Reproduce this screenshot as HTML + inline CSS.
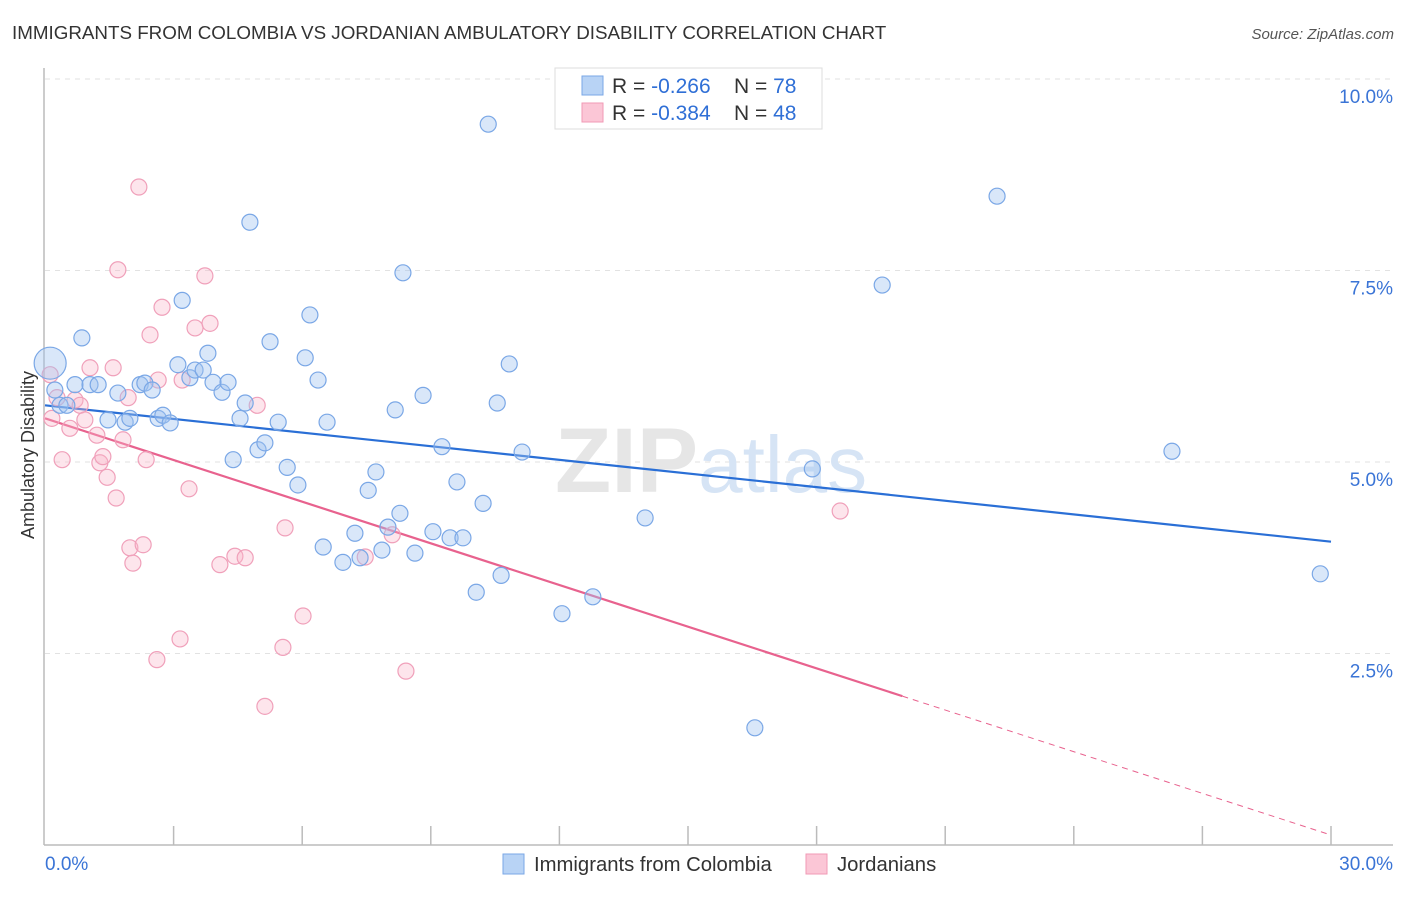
<!DOCTYPE html>
<html><head><meta charset="utf-8"><style>
body{margin:0;background:#fff;font-family:"Liberation Sans",sans-serif}
svg text{font-family:"Liberation Sans",sans-serif}
</style></head><body>
<svg id="chart" width="1406" height="892" xmlns="http://www.w3.org/2000/svg">
<text x="12" y="39" font-size="18.8" fill="#333">IMMIGRANTS FROM COLOMBIA VS JORDANIAN AMBULATORY DISABILITY CORRELATION CHART</text>
<text x="1394" y="39" font-size="15" fill="#555" text-anchor="end" font-style="italic">Source: ZipAtlas.com</text>
<g id="grid"></g>
<text x="555" y="492" font-size="92" fill="#e6e6e6" font-family="Liberation Serif" font-weight="bold">ZIP<tspan fill="#d6e4f5" font-family="Liberation Sans" font-weight="normal" font-size="80">atlas</tspan></text>
<g id="axes"></g>
<g id="lines"></g>
<g id="pts"></g>
<text transform="translate(34,455) rotate(-90)" font-size="18" fill="#333" text-anchor="middle">Ambulatory Disability</text>
<g>
<rect x="555" y="68" width="267" height="61" fill="#fff" stroke="#ddd"/>
<rect x="582" y="76" width="21" height="19" fill="#b8d3f5" stroke="#7aa7e6"/>
<rect x="582" y="103" width="21" height="19" fill="#fbc6d6" stroke="#f09ab5"/>
<text x="612" y="93" font-size="21" fill="#333">R = <tspan fill="#2f6fd6">-0.266</tspan><tspan x="734">N = </tspan><tspan fill="#2f6fd6">78</tspan></text>
<text x="612" y="120" font-size="21" fill="#333">R = <tspan fill="#2f6fd6">-0.384</tspan><tspan x="734">N = </tspan><tspan fill="#2f6fd6">48</tspan></text>
</g>
<g>
<rect x="503" y="854" width="21" height="20" fill="#b8d3f5" stroke="#7aa7e6"/>
<text x="534" y="871" font-size="20.3" fill="#333">Immigrants from Colombia</text>
<rect x="806" y="854" width="21" height="20" fill="#fbc6d6" stroke="#f09ab5"/>
<text x="837" y="871" font-size="20.3" fill="#333">Jordanians</text>
</g>
</svg>
<script>
const blueX=[0.12,0.23,0.35,0.51,0.70,0.86,1.05,1.24,1.47,1.70,1.87,1.98,2.22,2.33,2.50,2.64,2.75,2.92,3.10,3.20,3.38,3.50,3.69,3.80,3.92,4.13,4.27,4.39,4.55,4.67,4.78,4.97,5.13,5.25,5.44,5.65,5.90,6.07,6.18,6.37,6.49,6.58,6.95,7.23,7.35,7.54,7.72,7.86,8.00,8.17,8.28,8.35,8.63,8.82,9.05,9.26,9.45,9.61,9.75,10.06,10.22,10.34,10.55,10.64,10.83,11.13,12.06,12.78,14.00,16.56,17.90,19.53,22.21,26.29,29.75];
const blueY=[6.29,5.94,5.74,5.74,6.01,6.62,6.01,6.01,5.55,5.90,5.52,5.57,6.01,6.03,5.94,5.57,5.61,5.51,6.27,7.11,6.10,6.20,6.20,6.42,6.04,5.91,6.04,5.03,5.57,5.77,8.13,5.16,5.25,6.57,5.52,4.93,4.70,6.36,6.92,6.07,3.89,5.52,3.69,4.07,3.75,4.63,4.87,3.85,4.15,5.68,4.33,7.47,3.81,5.87,4.09,5.20,4.01,4.74,4.01,3.30,4.46,9.41,5.77,3.52,6.28,5.13,3.02,3.24,4.27,1.53,4.91,7.31,8.47,5.14,3.54];
const pinkX=[0.12,0.16,0.28,0.40,0.58,0.70,0.82,0.93,1.05,1.21,1.28,1.35,1.45,1.59,1.66,1.70,1.82,1.94,1.98,2.05,2.19,2.29,2.36,2.45,2.61,2.64,2.73,3.15,3.20,3.36,3.50,3.73,3.85,4.08,4.43,4.67,4.95,5.13,5.55,5.60,6.02,7.47,8.10,8.42,18.55];
const pinkY=[6.14,5.57,5.84,5.03,5.44,5.81,5.74,5.55,6.23,5.35,4.99,5.07,4.80,6.23,4.53,7.51,5.29,5.84,3.88,3.68,8.59,3.92,5.03,6.66,2.42,6.07,7.02,2.69,6.07,4.65,6.75,7.43,6.81,3.66,3.77,3.75,5.74,1.81,2.58,4.14,2.99,3.76,4.05,2.27,4.36];
const blueTrend=[5.74,3.96];
const pinkTrend=[5.57,0.13];
const pinkSolidEnd=20.0;
const yTicks=[2.5,5.0,7.5,10.0];
const NS="http://www.w3.org/2000/svg";
const X=v=>45+v/30*1286, Y=v=>845-v*76.6;
function mk(p,tag,a){const e=document.createElementNS(NS,tag);for(const k in a)e.setAttribute(k,a[k]);p.appendChild(e);return e;}
const grid=document.getElementById('grid'),axes=document.getElementById('axes'),lines=document.getElementById('lines'),pts=document.getElementById('pts');
yTicks.forEach(t=>{
 const l=mk(grid,'line',{x1:45,x2:1393,y1:Y(t),y2:Y(t),stroke:'#e2e2e2','stroke-dasharray':'5,5'});
 
 
 const tx=mk(axes,'text',{x:1393,y:Y(t)+24,'font-size':19,fill:'#3a74d6','text-anchor':'end'});
 tx.textContent=t.toFixed(1)+'%';
 
 
});
mk(axes,'line',{x1:44,x2:44,y1:68,y2:845,stroke:'#bbb','stroke-width':1.5});
mk(axes,'line',{x1:44,x2:1393,y1:845,y2:845,stroke:'#bbb','stroke-width':1.5});
for(let i=1;i<=10;i++){const t=mk(axes,'line',{x1:X(i*3),x2:X(i*3),y1:826,y2:845,stroke:'#bbb','stroke-width':1.5});
 
 }
const x0=mk(axes,'text',{x:45,y:870,'font-size':19,fill:'#3a74d6'});x0.textContent='0.0%';


const x1=mk(axes,'text',{x:1393,y:870,'font-size':19,fill:'#3a74d6','text-anchor':'end'});x1.textContent='30.0%';


function drawPts(xs,ys,fill,stroke,name){xs.forEach((x,i)=>{
 const c=mk(pts,'circle',{cx:X(x),cy:Y(ys[i]),r:(name==='colombia-point'&&i===0)?16:8,fill:fill,stroke:stroke,'stroke-width':1.2});
 
 
});}
drawPts(pinkX,pinkY,'rgba(248,180,200,0.35)','#f0a0ba','jordanian-point');
drawPts(blueX,blueY,'rgba(160,196,240,0.4)','#7aa7e6','colombia-point');
const bl=mk(lines,'line',{x1:X(0),y1:Y(blueTrend[0]),x2:X(30),y2:Y(blueTrend[1]),stroke:'#2a6fd6','stroke-width':2.2});


const pm=pinkTrend[0]+(pinkTrend[1]-pinkTrend[0])*pinkSolidEnd/30;
const pl=mk(lines,'line',{x1:X(0),y1:Y(pinkTrend[0]),x2:X(pinkSolidEnd),y2:Y(pm),stroke:'#e8628e','stroke-width':2.2});


const pd=mk(lines,'line',{x1:X(pinkSolidEnd),y1:Y(pm),x2:X(30),y2:Y(pinkTrend[1]),stroke:'#e8628e','stroke-width':1,'stroke-dasharray':'6,5'});


</script>
</body></html>
